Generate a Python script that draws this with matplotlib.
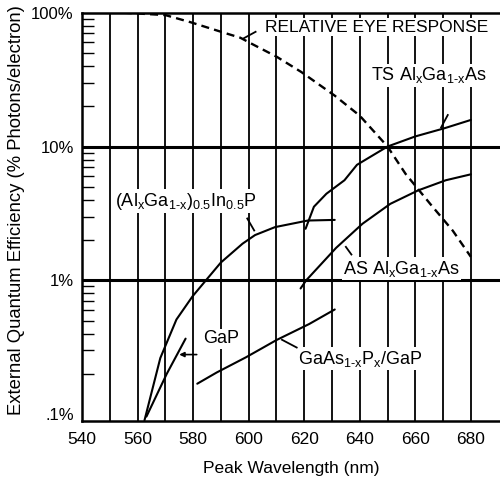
import matplotlib
matplotlib.use("Agg")
import matplotlib.pyplot as plt
from matplotlib.ticker import FixedLocator, NullFormatter

plt.rcParams['font.family'] = ['Liberation Sans', 'DejaVu Sans']
plt.rcParams['mathtext.fontset'] = 'custom'
plt.rcParams['mathtext.rm'] = 'Liberation Sans'
plt.rcParams['mathtext.it'] = 'Liberation Sans'

# curves (nm, % photons/electron)
eye_nm = [555, 570, 579, 591, 597, 601.5, 610, 619, 631, 640, 650, 656.5, 665.5, 673.5, 680]
eye_pct = [100, 96, 85, 71, 65, 58, 47, 36, 24, 17, 10, 6.25, 3.7, 2.35, 1.5]

ts_nm = [620.5, 623.5, 628, 634.5, 639, 650, 660, 670.5, 680]
ts_pct = [2.43, 3.55, 4.44, 5.6, 7.3, 10, 11.9, 13.7, 15.8]

alingap_nm = [562.5, 568.2, 574, 579.8, 584.6, 590, 597.8, 602.3, 609.5, 621.3, 631]
alingap_pct = [0.09, 0.263, 0.51, 0.76, 1.0, 1.36, 1.88, 2.18, 2.5, 2.8, 2.83]

as_nm = [618.7, 620.7, 631.5, 641, 651, 661, 671, 680]
as_pct = [0.87, 1.0, 1.75, 2.65, 3.73, 4.7, 5.6, 6.2]

gaasp_nm = [581.5, 588.5, 599, 604.8, 610, 621.8, 631]
gaasp_pct = [0.169, 0.205, 0.266, 0.311, 0.358, 0.472, 0.606]

gap_nm = [563.2, 570.5, 577.3]
gap_pct = [0.096, 0.2, 0.367]

# labels: text, position, leader start, leader end
labels = [
    ("RELATIVE EYE RESPONSE", (646, 78), (602.5, 72), (598, 64)),
    (r"TS Al$_\mathrm{x}$Ga$_\mathrm{1\text{-}x}$As", (665, 34), (671.7, 17.2), (669.3, 13.9)),
    (r"(Al$_\mathrm{x}$Ga$_\mathrm{1\text{-}x}$)$_\mathrm{0.5}$In$_\mathrm{0.5}$P", (577.5, 3.9), (599.5, 2.9), (602, 2.36)),
    (r"AS Al$_\mathrm{x}$Ga$_\mathrm{1\text{-}x}$As", (655, 1.22), (637, 1.56), (635, 1.78)),
    ("GaP", (590, 0.365), None, None),
    (r"GaAs$_\mathrm{1\text{-}x}$P$_\mathrm{x}$/GaP", (640, 0.26), (617.3, 0.315), (612, 0.36)),
]
gap_arrow = ((582.3, 0.279), (574, 0.279))

vlines = list(range(550, 690, 10))
hlines = [1, 10]
yticks = [0.1, 1, 10, 100]
ylabels = ['.1%', '1%', '10%', '100%']
xticks = list(range(540, 700, 20))

fig = plt.figure(figsize=(5, 4.83), dpi=100)
ax = fig.add_axes([0.164, 0.1284, 0.836, 0.8453])
ax.set_yscale('log')
ax.set_xlim(540, 690.5)
ax.set_ylim(0.089, 100)

for v in vlines:
    ax.axvline(v, color='black', lw=1.3, zorder=1)
for h in hlines:
    ax.axhline(h, color='black', lw=2.2, zorder=1)

ax.plot(eye_nm, eye_pct, color='black', lw=1.7, dashes=(3.4, 2.2), zorder=4)
for xs, ys in [(ts_nm, ts_pct), (alingap_nm, alingap_pct), (as_nm, as_pct),
               (gaasp_nm, gaasp_pct), (gap_nm, gap_pct)]:
    ax.plot(xs, ys, color='black', lw=1.5, zorder=4, solid_capstyle='round')

for i, (txt, pos, a, b) in enumerate(labels):
    ax.text(pos[0], pos[1], txt, fontsize=12.5 if i == 0 else 13, ha='center', va='center', zorder=3,
            bbox=dict(facecolor='white', edgecolor='none', pad=1.0))
    if a is not None:
        ax.plot([a[0], b[0]], [a[1], b[1]], color='black', lw=1.3, zorder=4)
ax.annotate('', xy=gap_arrow[1], xytext=gap_arrow[0],
            arrowprops=dict(arrowstyle='-|>', color='black', lw=1.2, mutation_scale=7))

ax.set_yticks(yticks)
ax.set_yticklabels(ylabels)
minors = [m * d for d in [0.1, 1, 10] for m in range(2, 10)]
ax.yaxis.set_minor_locator(FixedLocator(minors))
ax.yaxis.set_minor_formatter(NullFormatter())
ax.tick_params(axis='y', which='minor', direction='in', length=8.5, width=1)
ax.tick_params(axis='y', which='major', length=0, pad=6, labelsize=12)
ax.set_xticks(xticks)
ax.tick_params(axis='x', which='major', length=0, pad=8, labelsize=12.5)

for s in ['left', 'bottom', 'top']:
    ax.spines[s].set_linewidth(1.8)
ax.spines['right'].set_visible(False)

ax.set_xlabel('Peak Wavelength (nm)', fontsize=12.5, labelpad=10)
ax.set_ylabel('External Quantum Efficiency (% Photons/electron)', fontsize=13.3)
ax.yaxis.set_label_coords(-0.137, 0.517)

fig.savefig('out.png', dpi=100)
